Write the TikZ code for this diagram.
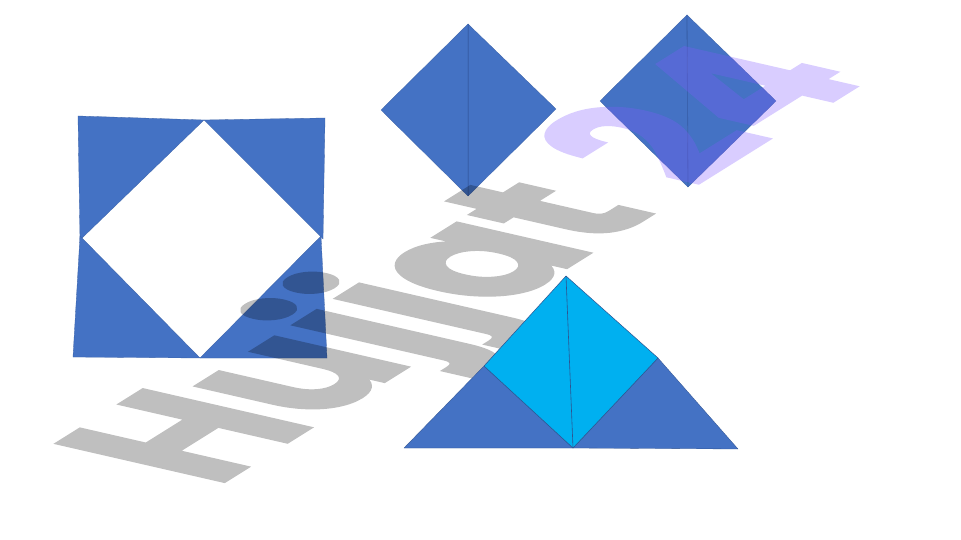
\documentclass[tikz,border=0pt]{standalone}
\usepackage{fontspec}
\newfontfamily\wmfont{Poppins}[FakeBold=1.2]
\definecolor{offblue}{HTML}{4472C4}
\definecolor{offcyan}{HTML}{00B0F0}
\definecolor{edgeblue}{HTML}{2F528F}
\definecolor{midline}{HTML}{3A62AE}
\definecolor{wmpurple}{RGB}{130,90,255}
\tikzset{
  bluetri/.style={fill=offblue, draw=offblue!85!black, line width=0.3pt, line join=round},
  cyantri/.style={fill=offcyan, draw=edgeblue, line width=0.5pt, line join=round},
  foldline/.style={draw=midline, line width=0.8pt},
  cyanfold/.style={draw=edgeblue, line width=0.6pt},
  wmtext/.style={inner sep=0pt, anchor=base west, transform shape, font=\wmfont\bfseries\fontsize{100}{100}\selectfont}
}
\begin{document}
\begin{tikzpicture}[x=1pt,y=-1pt]
\useasboundingbox[fill=white] (0,0) rectangle (961,540);
% left square with white diamond
\coordinate (sqA) at (78,116);
\coordinate (sqT) at (204,120);
\coordinate (sqB) at (325,118);
\coordinate (sqL1) at (80,240);
\coordinate (sqL2) at (80,236);
\coordinate (sqR1) at (323,239);
\coordinate (sqR2) at (321,236);
\coordinate (sqC) at (73,357);
\coordinate (sqD) at (327,358);
\coordinate (sqM) at (200,358);
\draw[bluetri] (sqA) -- (sqT) -- (sqL1) -- cycle;
\draw[bluetri] (sqT) -- (sqB) -- (sqR1) -- cycle;
\draw[bluetri] (sqL2) -- (sqM) -- (sqC) -- cycle;
\draw[bluetri] (sqR2) -- (sqD) -- (sqM) -- cycle;
% top diamond 1
\coordinate (dAT) at (468,24);
\coordinate (dAL) at (381,110);
\coordinate (dAR) at (556,109);
\coordinate (dAB) at (468,196);
\draw[bluetri] (dAT) -- (dAL) -- (dAB) -- cycle;
\draw[bluetri] (dAT) -- (dAR) -- (dAB) -- cycle;
\draw[foldline] (dAT) -- (dAB);
% top diamond 2
\coordinate (dBT) at (687,15);
\coordinate (dBL) at (600,101);
\coordinate (dBR) at (776,101);
\coordinate (dBB) at (688,187);
\draw[bluetri] (dBT) -- (dBL) -- (dBB) -- cycle;
\draw[bluetri] (dBT) -- (dBR) -- (dBB) -- cycle;
\draw[foldline] (dBT) -- (dBB);
% watermark
\begin{scope}[transparency group, opacity=0.25]
\begin{scope}[cm={1.44,0.9,-2.4,0.55,(215,488)}]
\node[wmtext, text=black] (wmA) at (0pt,0pt) {Hujjat};
\end{scope}
\end{scope}
\begin{scope}[transparency group, opacity=0.3]
\begin{scope}[cm={1.44,0.9,-2.4,0.55,(215,488)}]
\node[wmtext, text=wmpurple] (wmB) at ([xshift=25pt]wmA.base east) {24};
\end{scope}
\end{scope}
% bottom group
\coordinate (tA) at (404,448);
\coordinate (tM) at (573,448);
\coordinate (tE) at (738,449);
\coordinate (cT) at (566,276);
\coordinate (cL) at (484,366);
\coordinate (cR) at (658,358);
\draw[bluetri, draw=edgeblue] (tA) -- (cL) -- (tM) -- cycle;
\draw[bluetri, draw=edgeblue] (tM) -- (cR) -- (tE) -- cycle;
\draw[cyantri] (cT) -- (cL) -- (tM) -- (cR) -- cycle;
\draw[cyanfold] (cT) -- (tM);
\end{tikzpicture}
\end{document}
